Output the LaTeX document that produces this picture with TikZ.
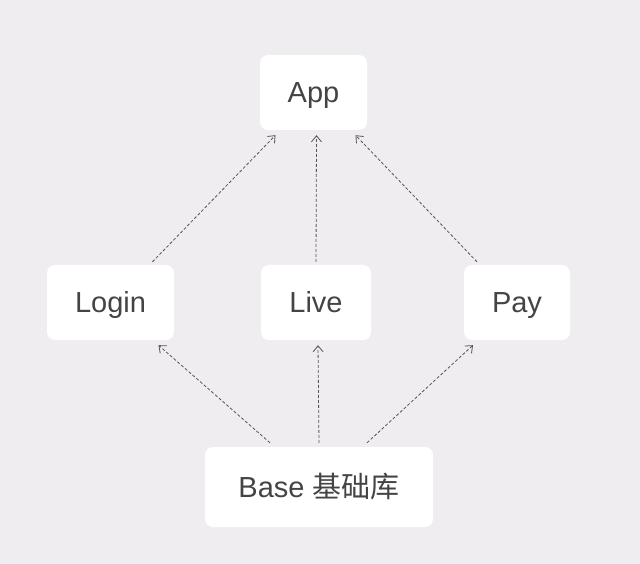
\documentclass[tikz,border=0pt]{standalone}
\usepackage{fontspec}
\setmainfont{Liberation Sans}
\newfontfamily\cjk{Noto Sans CJK SC}
\usetikzlibrary{arrows.meta}
\definecolor{bg}{HTML}{EFEDF0}
\definecolor{ink}{HTML}{444444}
\definecolor{edge}{HTML}{555555}
\tikzset{
  box/.style={fill=white, rounded corners=8pt, inner sep=0pt, text=ink,
    font=\fontsize{29}{32}\selectfont, minimum height=75pt,
    text height=23pt, text depth=3pt},
  dep/.style={draw=edge, dashed, dash pattern=on 3pt off 2pt, line width=0.8pt,
    -{Straight Barb[length=6pt,width=10pt]}}
}
\begin{document}
\begin{tikzpicture}[x=1pt,y=-1pt]
\fill[bg] (0,0) rectangle (640,564);
\node[box, minimum width=107pt] (app) at (313.5,92.5) {App};
\node[box, minimum width=127pt] (login) at (110.5,302.5) {Login};
\node[box, minimum width=110pt] (live) at (316,302.5) {Live};
\node[box, minimum width=106pt] (pay) at (517,302.5) {Pay};
\node[box, minimum width=228pt, minimum height=80pt] (base) at (319,487) {Base {\cjk 基础库}};
% upper layer
\draw[dep] ([xshift=42pt,yshift=3pt]login.north) -- ([xshift=-38pt,yshift=-5pt]app.south);
\draw[dep] ([yshift=3pt]live.north) -- ([xshift=3pt,yshift=-5pt]app.south);
\draw[dep] ([xshift=-40pt,yshift=3pt]pay.north) -- ([xshift=42pt,yshift=-5pt]app.south);
% lower layer
\draw[dep] ([xshift=-49pt,yshift=4pt]base.north) -- ([xshift=48pt,yshift=-5pt]login.south);
\draw[dep] ([yshift=4pt]base.north) -- ([xshift=2pt,yshift=-5pt]live.south);
\draw[dep] ([xshift=48pt,yshift=4pt]base.north) -- ([xshift=-44pt,yshift=-5pt]pay.south);
\end{tikzpicture}
\end{document}
